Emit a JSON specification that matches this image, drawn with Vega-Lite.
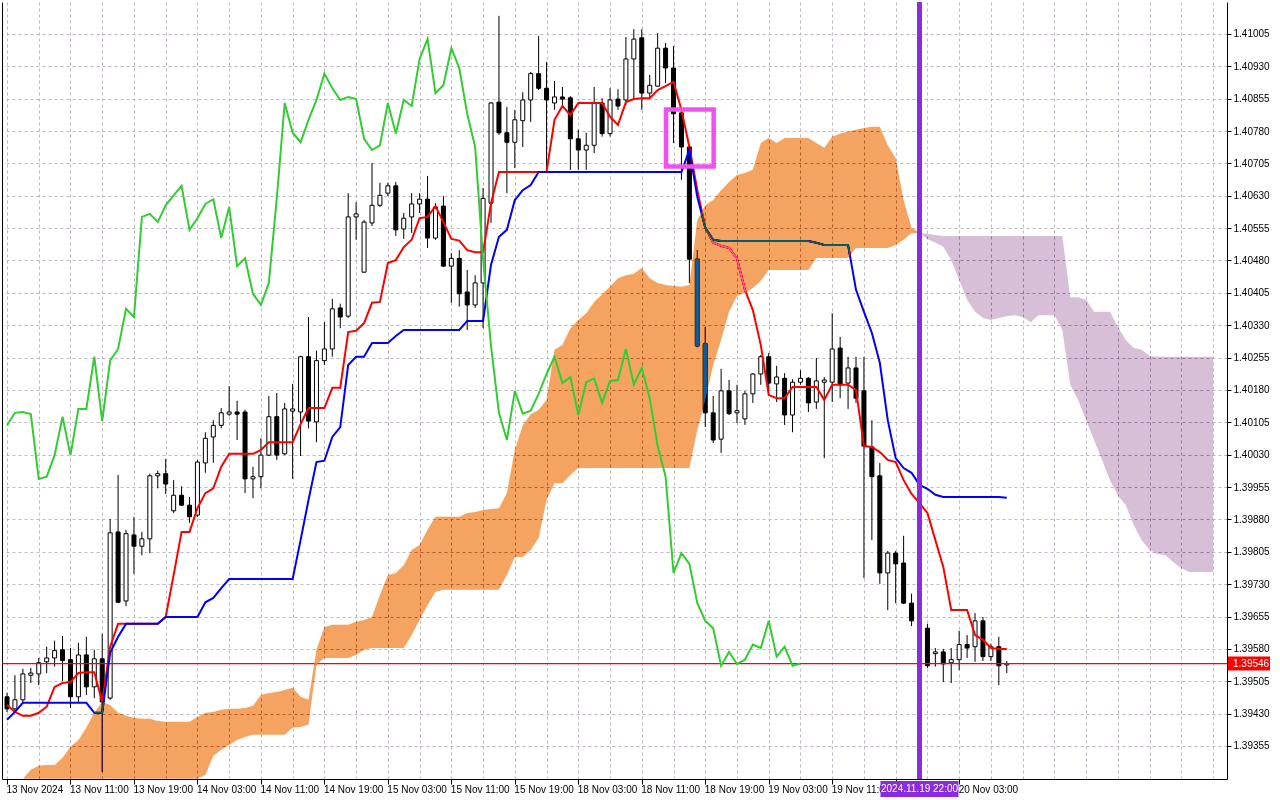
{
  "$schema": "https://vega.github.io/schema/vega-lite/v6.json",
  "width": 1225,
  "height": 777,
  "autosize": {"type": "none"},
  "padding": {"left": 2, "top": 2, "right": 53, "bottom": 21},
  "background": "white",
  "datasets": {
    "bars": [
      {"i":0,"open":1.39469,"high":1.39478,"low":1.39434,"close":1.39441,"tenkan":1.3945,"kijun":1.39416,"chikou":1.40098,"spanA":1.39279,"spanB":1.39279},
      {"i":1,"open":1.39441,"high":1.39519,"low":1.39432,"close":1.39462,"tenkan":1.39434,"kijun":1.39434,"chikou":1.40127,"spanA":1.39279,"spanB":1.39279},
      {"i":2,"open":1.39462,"high":1.39534,"low":1.39457,"close":1.39522,"tenkan":1.39425,"kijun":1.39455,"chikou":1.40129,"spanA":1.39279,"spanB":1.39279},
      {"i":3,"open":1.39519,"high":1.39536,"low":1.39501,"close":1.39524,"tenkan":1.39425,"kijun":1.39455,"chikou":1.40124,"spanA":1.393,"spanB":1.39279},
      {"i":4,"open":1.39522,"high":1.39559,"low":1.39496,"close":1.39548,"tenkan":1.39432,"kijun":1.39455,"chikou":1.39974,"spanA":1.39309,"spanB":1.39279},
      {"i":5,"open":1.3955,"high":1.39585,"low":1.39524,"close":1.39559,"tenkan":1.39446,"kijun":1.39455,"chikou":1.39979,"spanA":1.39311,"spanB":1.39279},
      {"i":6,"open":1.39559,"high":1.39599,"low":1.39539,"close":1.39576,"tenkan":1.39492,"kijun":1.39455,"chikou":1.40029,"spanA":1.39311,"spanB":1.39279},
      {"i":7,"open":1.39578,"high":1.3961,"low":1.39506,"close":1.39553,"tenkan":1.39501,"kijun":1.39455,"chikou":1.40118,"spanA":1.39328,"spanB":1.39279},
      {"i":8,"open":1.39555,"high":1.39582,"low":1.39443,"close":1.39469,"tenkan":1.39503,"kijun":1.39455,"chikou":1.40029,"spanA":1.39353,"spanB":1.39279},
      {"i":9,"open":1.39469,"high":1.39594,"low":1.39457,"close":1.39566,"tenkan":1.39524,"kijun":1.39455,"chikou":1.40136,"spanA":1.39369,"spanB":1.39279},
      {"i":10,"open":1.39566,"high":1.39608,"low":1.39473,"close":1.39492,"tenkan":1.39526,"kijun":1.39455,"chikou":1.40136,"spanA":1.39397,"spanB":1.39279},
      {"i":11,"open":1.39492,"high":1.39578,"low":1.39466,"close":1.39557,"tenkan":1.39526,"kijun":1.39432,"chikou":1.40257,"spanA":1.39432,"spanB":1.39279},
      {"i":12,"open":1.39557,"high":1.39615,"low":1.39295,"close":1.39457,"tenkan":1.39457,"kijun":1.39432,"chikou":1.40108,"spanA":1.39457,"spanB":1.39279},
      {"i":13,"open":1.39466,"high":1.39881,"low":1.39462,"close":1.39849,"tenkan":1.39585,"kijun":1.39571,"chikou":1.40248,"spanA":1.3945,"spanB":1.39279},
      {"i":14,"open":1.39851,"high":1.39983,"low":1.39686,"close":1.39688,"tenkan":1.39638,"kijun":1.39608,"chikou":1.40275,"spanA":1.39432,"spanB":1.39279},
      {"i":15,"open":1.39691,"high":1.39856,"low":1.39679,"close":1.39847,"tenkan":1.39638,"kijun":1.39638,"chikou":1.40368,"spanA":1.39425,"spanB":1.39279},
      {"i":16,"open":1.39844,"high":1.39886,"low":1.39754,"close":1.39818,"tenkan":1.39638,"kijun":1.39638,"chikou":1.40349,"spanA":1.3942,"spanB":1.39279},
      {"i":17,"open":1.39818,"high":1.39851,"low":1.39797,"close":1.39835,"tenkan":1.39638,"kijun":1.39638,"chikou":1.40581,"spanA":1.39418,"spanB":1.39279},
      {"i":18,"open":1.39835,"high":1.39986,"low":1.39802,"close":1.39981,"tenkan":1.39638,"kijun":1.39638,"chikou":1.40588,"spanA":1.39418,"spanB":1.39279},
      {"i":19,"open":1.39981,"high":1.39993,"low":1.39952,"close":1.39986,"tenkan":1.39638,"kijun":1.39638,"chikou":1.40569,"spanA":1.39413,"spanB":1.39279},
      {"i":20,"open":1.39986,"high":1.4002,"low":1.39939,"close":1.39962,"tenkan":1.39654,"kijun":1.39654,"chikou":1.40608,"spanA":1.39411,"spanB":1.39279},
      {"i":21,"open":1.399,"high":1.39971,"low":1.39895,"close":1.39936,"tenkan":1.39751,"kijun":1.39654,"chikou":1.40631,"spanA":1.39411,"spanB":1.39279},
      {"i":22,"open":1.39936,"high":1.39957,"low":1.39911,"close":1.39913,"tenkan":1.39851,"kijun":1.39654,"chikou":1.40653,"spanA":1.39411,"spanB":1.39279},
      {"i":23,"open":1.39913,"high":1.39932,"low":1.39872,"close":1.39886,"tenkan":1.39851,"kijun":1.39654,"chikou":1.40551,"spanA":1.39411,"spanB":1.39279},
      {"i":24,"open":1.3989,"high":1.40018,"low":1.39886,"close":1.40013,"tenkan":1.39906,"kijun":1.39654,"chikou":1.40578,"spanA":1.39422,"spanB":1.39279},
      {"i":25,"open":1.40011,"high":1.40082,"low":1.39988,"close":1.40068,"tenkan":1.39941,"kijun":1.39688,"chikou":1.40611,"spanA":1.39432,"spanB":1.39288},
      {"i":26,"open":1.40071,"high":1.4011,"low":1.40011,"close":1.40098,"tenkan":1.39952,"kijun":1.39698,"chikou":1.40622,"spanA":1.39434,"spanB":1.39332},
      {"i":27,"open":1.40098,"high":1.40138,"low":1.40091,"close":1.40127,"tenkan":1.40002,"kijun":1.39721,"chikou":1.40532,"spanA":1.39439,"spanB":1.39346},
      {"i":28,"open":1.40124,"high":1.40189,"low":1.4012,"close":1.40129,"tenkan":1.40032,"kijun":1.39742,"chikou":1.40604,"spanA":1.39441,"spanB":1.39357},
      {"i":29,"open":1.40129,"high":1.40155,"low":1.40064,"close":1.40124,"tenkan":1.40032,"kijun":1.39742,"chikou":1.40467,"spanA":1.39441,"spanB":1.39369},
      {"i":30,"open":1.40129,"high":1.40134,"low":1.39941,"close":1.39974,"tenkan":1.40032,"kijun":1.39742,"chikou":1.40485,"spanA":1.39443,"spanB":1.39376},
      {"i":31,"open":1.39974,"high":1.40002,"low":1.39929,"close":1.39979,"tenkan":1.40032,"kijun":1.39742,"chikou":1.40403,"spanA":1.39448,"spanB":1.39381},
      {"i":32,"open":1.39979,"high":1.40068,"low":1.39952,"close":1.40029,"tenkan":1.40041,"kijun":1.39742,"chikou":1.40377,"spanA":1.39473,"spanB":1.39381},
      {"i":33,"open":1.40029,"high":1.40166,"low":1.40027,"close":1.40118,"tenkan":1.40059,"kijun":1.39742,"chikou":1.40428,"spanA":1.39478,"spanB":1.39381},
      {"i":34,"open":1.40118,"high":1.40173,"low":1.40018,"close":1.40029,"tenkan":1.40059,"kijun":1.39742,"chikou":1.40624,"spanA":1.3948,"spanB":1.39381},
      {"i":35,"open":1.40032,"high":1.4015,"low":1.40029,"close":1.40136,"tenkan":1.40059,"kijun":1.39742,"chikou":1.40845,"spanA":1.39485,"spanB":1.39381},
      {"i":36,"open":1.40131,"high":1.40194,"low":1.39974,"close":1.40136,"tenkan":1.40059,"kijun":1.39742,"chikou":1.40776,"spanA":1.3949,"spanB":1.39397},
      {"i":37,"open":1.40129,"high":1.40259,"low":1.40027,"close":1.40257,"tenkan":1.40101,"kijun":1.39832,"chikou":1.40754,"spanA":1.39469,"spanB":1.39399},
      {"i":38,"open":1.40257,"high":1.40349,"low":1.40091,"close":1.40108,"tenkan":1.40138,"kijun":1.39925,"chikou":1.40806,"spanA":1.39462,"spanB":1.39404},
      {"i":39,"open":1.40106,"high":1.40271,"low":1.40059,"close":1.40248,"tenkan":1.40138,"kijun":1.40013,"chikou":1.40852,"spanA":1.39578,"spanB":1.39543},
      {"i":40,"open":1.40248,"high":1.40337,"low":1.40238,"close":1.40275,"tenkan":1.40138,"kijun":1.40016,"chikou":1.40913,"spanA":1.39631,"spanB":1.39559},
      {"i":41,"open":1.40275,"high":1.40391,"low":1.40257,"close":1.40368,"tenkan":1.40185,"kijun":1.40071,"chikou":1.40879,"spanA":1.39636,"spanB":1.39559},
      {"i":42,"open":1.4037,"high":1.4038,"low":1.40323,"close":1.40349,"tenkan":1.40185,"kijun":1.40094,"chikou":1.40852,"spanA":1.39636,"spanB":1.39559},
      {"i":43,"open":1.40351,"high":1.40636,"low":1.40347,"close":1.40581,"tenkan":1.40314,"kijun":1.40238,"chikou":1.40859,"spanA":1.39636,"spanB":1.39559},
      {"i":44,"open":1.40581,"high":1.40615,"low":1.40528,"close":1.40588,"tenkan":1.40317,"kijun":1.40257,"chikou":1.40854,"spanA":1.39643,"spanB":1.39566},
      {"i":45,"open":1.40453,"high":1.40574,"low":1.40451,"close":1.40569,"tenkan":1.40335,"kijun":1.40257,"chikou":1.40762,"spanA":1.39647,"spanB":1.39578},
      {"i":46,"open":1.40567,"high":1.40706,"low":1.4056,"close":1.40608,"tenkan":1.40382,"kijun":1.40289,"chikou":1.40736,"spanA":1.39654,"spanB":1.39582},
      {"i":47,"open":1.40608,"high":1.4066,"low":1.40604,"close":1.40631,"tenkan":1.40384,"kijun":1.40289,"chikou":1.40747,"spanA":1.39705,"spanB":1.39582},
      {"i":48,"open":1.40636,"high":1.4066,"low":1.40629,"close":1.40653,"tenkan":1.40474,"kijun":1.40289,"chikou":1.40845,"spanA":1.39751,"spanB":1.39582},
      {"i":49,"open":1.40653,"high":1.40662,"low":1.40537,"close":1.40551,"tenkan":1.40481,"kijun":1.40305,"chikou":1.40774,"spanA":1.39756,"spanB":1.39582},
      {"i":50,"open":1.40553,"high":1.4059,"low":1.4053,"close":1.40578,"tenkan":1.40511,"kijun":1.40319,"chikou":1.40852,"spanA":1.39774,"spanB":1.39582},
      {"i":51,"open":1.40581,"high":1.40636,"low":1.40544,"close":1.40611,"tenkan":1.40528,"kijun":1.40319,"chikou":1.40838,"spanA":1.39809,"spanB":1.39612},
      {"i":52,"open":1.40611,"high":1.40636,"low":1.4059,"close":1.40622,"tenkan":1.40578,"kijun":1.40319,"chikou":1.40947,"spanA":1.39821,"spanB":1.39647},
      {"i":53,"open":1.40622,"high":1.40676,"low":1.40509,"close":1.40532,"tenkan":1.40581,"kijun":1.40319,"chikou":1.40993,"spanA":1.39856,"spanB":1.39681},
      {"i":54,"open":1.40532,"high":1.40613,"low":1.40528,"close":1.40604,"tenkan":1.40606,"kijun":1.40319,"chikou":1.40868,"spanA":1.39886,"spanB":1.39712},
      {"i":55,"open":1.40606,"high":1.40629,"low":1.40465,"close":1.40467,"tenkan":1.40569,"kijun":1.40319,"chikou":1.40886,"spanA":1.39886,"spanB":1.39717},
      {"i":56,"open":1.40467,"high":1.40497,"low":1.40382,"close":1.40485,"tenkan":1.4053,"kijun":1.40319,"chikou":1.40972,"spanA":1.39886,"spanB":1.39717},
      {"i":57,"open":1.40485,"high":1.40504,"low":1.40373,"close":1.40403,"tenkan":1.40526,"kijun":1.40319,"chikou":1.40926,"spanA":1.39886,"spanB":1.39717},
      {"i":58,"open":1.40407,"high":1.40458,"low":1.40319,"close":1.40377,"tenkan":1.40504,"kijun":1.4034,"chikou":1.4082,"spanA":1.39895,"spanB":1.39717},
      {"i":59,"open":1.40377,"high":1.40446,"low":1.4037,"close":1.40428,"tenkan":1.40499,"kijun":1.4034,"chikou":1.40743,"spanA":1.39897,"spanB":1.39717},
      {"i":60,"open":1.40428,"high":1.40648,"low":1.40323,"close":1.40624,"tenkan":1.40499,"kijun":1.4034,"chikou":1.40483,"spanA":1.39902,"spanB":1.39717},
      {"i":61,"open":1.40613,"high":1.40847,"low":1.40567,"close":1.40845,"tenkan":1.40613,"kijun":1.4047,"chikou":1.40282,"spanA":1.39904,"spanB":1.39717},
      {"i":62,"open":1.40847,"high":1.41047,"low":1.40771,"close":1.40776,"tenkan":1.40685,"kijun":1.40535,"chikou":1.40127,"spanA":1.39906,"spanB":1.39717},
      {"i":63,"open":1.40776,"high":1.40836,"low":1.40636,"close":1.40754,"tenkan":1.40685,"kijun":1.40551,"chikou":1.40064,"spanA":1.39941,"spanB":1.39751},
      {"i":64,"open":1.40754,"high":1.40829,"low":1.40694,"close":1.40806,"tenkan":1.40685,"kijun":1.4062,"chikou":1.40178,"spanA":1.40041,"spanB":1.39793},
      {"i":65,"open":1.40804,"high":1.4087,"low":1.40743,"close":1.40852,"tenkan":1.40685,"kijun":1.40643,"chikou":1.40125,"spanA":1.40098,"spanB":1.39793},
      {"i":66,"open":1.40852,"high":1.40917,"low":1.40801,"close":1.40913,"tenkan":1.40685,"kijun":1.40655,"chikou":1.40132,"spanA":1.40124,"spanB":1.39809},
      {"i":67,"open":1.40913,"high":1.41,"low":1.40875,"close":1.40879,"tenkan":1.40685,"kijun":1.40685,"chikou":1.40171,"spanA":1.40134,"spanB":1.39837},
      {"i":68,"open":1.40879,"high":1.4094,"low":1.40685,"close":1.40852,"tenkan":1.40685,"kijun":1.40685,"chikou":1.40217,"spanA":1.40157,"spanB":1.39925},
      {"i":69,"open":1.40845,"high":1.40896,"low":1.40829,"close":1.40859,"tenkan":1.40806,"kijun":1.40685,"chikou":1.40257,"spanA":1.40273,"spanB":1.39964},
      {"i":70,"open":1.40859,"high":1.40882,"low":1.40836,"close":1.40854,"tenkan":1.40838,"kijun":1.40685,"chikou":1.40196,"spanA":1.40284,"spanB":1.39964},
      {"i":71,"open":1.40857,"high":1.40861,"low":1.4069,"close":1.40762,"tenkan":1.40817,"kijun":1.40685,"chikou":1.4021,"spanA":1.40323,"spanB":1.39983},
      {"i":72,"open":1.40762,"high":1.40783,"low":1.4069,"close":1.40736,"tenkan":1.40845,"kijun":1.40685,"chikou":1.40122,"spanA":1.40342,"spanB":1.39999},
      {"i":73,"open":1.40736,"high":1.40776,"low":1.4069,"close":1.40747,"tenkan":1.40845,"kijun":1.40685,"chikou":1.40198,"spanA":1.40358,"spanB":1.39999},
      {"i":74,"open":1.40747,"high":1.40882,"low":1.40729,"close":1.40845,"tenkan":1.40845,"kijun":1.40685,"chikou":1.40207,"spanA":1.40384,"spanB":1.39999},
      {"i":75,"open":1.40845,"high":1.40856,"low":1.40767,"close":1.40774,"tenkan":1.40845,"kijun":1.40685,"chikou":1.4015,"spanA":1.40402,"spanB":1.39999},
      {"i":76,"open":1.40774,"high":1.40879,"low":1.40767,"close":1.40852,"tenkan":1.40813,"kijun":1.40685,"chikou":1.40201,"spanA":1.40419,"spanB":1.39999},
      {"i":77,"open":1.40854,"high":1.40877,"low":1.40829,"close":1.40838,"tenkan":1.40794,"kijun":1.40685,"chikou":1.40203,"spanA":1.40439,"spanB":1.39999},
      {"i":78,"open":1.40852,"high":1.40998,"low":1.4084,"close":1.40947,"tenkan":1.40847,"kijun":1.40685,"chikou":1.40275,"spanA":1.40446,"spanB":1.39999},
      {"i":79,"open":1.40947,"high":1.41016,"low":1.40852,"close":1.40993,"tenkan":1.40854,"kijun":1.40685,"chikou":1.40192,"spanA":1.40449,"spanB":1.39999},
      {"i":80,"open":1.40996,"high":1.41016,"low":1.40829,"close":1.40868,"tenkan":1.40856,"kijun":1.40685,"chikou":1.40231,"spanA":1.40463,"spanB":1.39999},
      {"i":81,"open":1.40868,"high":1.4091,"low":1.40856,"close":1.40886,"tenkan":1.40856,"kijun":1.40685,"chikou":1.40161,"spanA":1.40439,"spanB":1.39999},
      {"i":82,"open":1.40884,"high":1.41007,"low":1.40882,"close":1.40972,"tenkan":1.40875,"kijun":1.40685,"chikou":1.4005,"spanA":1.40428,"spanB":1.39999},
      {"i":83,"open":1.40972,"high":1.40984,"low":1.40891,"close":1.40926,"tenkan":1.40884,"kijun":1.40685,"chikou":1.39979,"spanA":1.40423,"spanB":1.39999},
      {"i":84,"open":1.40926,"high":1.40977,"low":1.40752,"close":1.4082,"tenkan":1.40894,"kijun":1.40685,"chikou":1.39756,"spanA":1.40421,"spanB":1.39999},
      {"i":85,"open":1.40822,"high":1.40829,"low":1.40667,"close":1.40743,"tenkan":1.40829,"kijun":1.40685,"chikou":1.39802,"spanA":1.40419,"spanB":1.39999},
      {"i":86,"open":1.40743,"high":1.40747,"low":1.40428,"close":1.40483,"tenkan":1.40743,"kijun":1.40736,"chikou":1.39777,"spanA":1.40423,"spanB":1.39999},
      {"i":87,"open":1.40483,"high":1.40504,"low":1.40279,"close":1.40282,"tenkan":1.40643,"kijun":1.40627,"chikou":1.39686,"spanA":1.40574,"spanB":1.40087},
      {"i":88,"open":1.40287,"high":1.40326,"low":1.40094,"close":1.40127,"tenkan":1.40556,"kijun":1.40556,"chikou":1.39645,"spanA":1.40608,"spanB":1.40157},
      {"i":89,"open":1.40127,"high":1.40166,"low":1.40057,"close":1.40064,"tenkan":1.40521,"kijun":1.40528,"chikou":1.39628,"spanA":1.4062,"spanB":1.40238},
      {"i":90,"open":1.40066,"high":1.40229,"low":1.40034,"close":1.40178,"tenkan":1.40514,"kijun":1.40525,"chikou":1.39541,"spanA":1.40643,"spanB":1.40296},
      {"i":91,"open":1.40178,"high":1.40203,"low":1.40122,"close":1.40125,"tenkan":1.40509,"kijun":1.40525,"chikou":1.39573,"spanA":1.40662,"spanB":1.40361},
      {"i":92,"open":1.40127,"high":1.40192,"low":1.40103,"close":1.40132,"tenkan":1.40485,"kijun":1.40525,"chikou":1.39545,"spanA":1.40678,"spanB":1.40398},
      {"i":93,"open":1.40113,"high":1.40178,"low":1.40099,"close":1.40171,"tenkan":1.40412,"kijun":1.40525,"chikou":1.39555,"spanA":1.40683,"spanB":1.40405},
      {"i":94,"open":1.40171,"high":1.40219,"low":1.4015,"close":1.40217,"tenkan":1.40365,"kijun":1.40525,"chikou":1.3959,"spanA":1.4069,"spanB":1.40416},
      {"i":95,"open":1.40217,"high":1.40261,"low":1.40192,"close":1.40257,"tenkan":1.40284,"kijun":1.40525,"chikou":1.39582,"spanA":1.40752,"spanB":1.40433},
      {"i":96,"open":1.40257,"high":1.40266,"low":1.40175,"close":1.40196,"tenkan":1.40168,"kijun":1.40525,"chikou":1.39645,"spanA":1.40764,"spanB":1.40458},
      {"i":97,"open":1.40194,"high":1.40236,"low":1.40152,"close":1.4021,"tenkan":1.40161,"kijun":1.40525,"chikou":1.39562,"spanA":1.40752,"spanB":1.40458},
      {"i":98,"open":1.40207,"high":1.40219,"low":1.40099,"close":1.40122,"tenkan":1.40161,"kijun":1.40525,"chikou":1.39585,"spanA":1.40764,"spanB":1.40458},
      {"i":99,"open":1.40122,"high":1.40205,"low":1.40082,"close":1.40198,"tenkan":1.40187,"kijun":1.40525,"chikou":1.39541,"spanA":1.40764,"spanB":1.40458},
      {"i":100,"open":1.40198,"high":1.40226,"low":1.40192,"close":1.40207,"tenkan":1.40187,"kijun":1.40525,"chikou":1.39546,"spanA":1.40764,"spanB":1.40458},
      {"i":101,"open":1.40207,"high":1.4021,"low":1.40129,"close":1.4015,"tenkan":1.40187,"kijun":1.40525,"spanA":1.40764,"spanB":1.40458},
      {"i":102,"open":1.40152,"high":1.40254,"low":1.40136,"close":1.40201,"tenkan":1.40187,"kijun":1.40521,"spanA":1.40752,"spanB":1.40486},
      {"i":103,"open":1.40198,"high":1.4021,"low":1.40022,"close":1.40203,"tenkan":1.40157,"kijun":1.40516,"spanA":1.40741,"spanB":1.40486},
      {"i":104,"open":1.40198,"high":1.40358,"low":1.40152,"close":1.40275,"tenkan":1.40192,"kijun":1.40516,"spanA":1.40767,"spanB":1.40486},
      {"i":105,"open":1.40277,"high":1.40303,"low":1.40161,"close":1.40192,"tenkan":1.40192,"kijun":1.40516,"spanA":1.40774,"spanB":1.40486},
      {"i":106,"open":1.40196,"high":1.40257,"low":1.40136,"close":1.40231,"tenkan":1.40192,"kijun":1.40516,"spanA":1.40779,"spanB":1.40486},
      {"i":107,"open":1.40231,"high":1.40257,"low":1.4015,"close":1.40161,"tenkan":1.4018,"kijun":1.40412,"spanA":1.40783,"spanB":1.40509},
      {"i":108,"open":1.40178,"high":1.40257,"low":1.39744,"close":1.4005,"tenkan":1.4005,"kijun":1.40361,"spanA":1.40787,"spanB":1.40509},
      {"i":109,"open":1.40048,"high":1.4011,"low":1.39832,"close":1.39979,"tenkan":1.40048,"kijun":1.40312,"spanA":1.4079,"spanB":1.40509},
      {"i":110,"open":1.39981,"high":1.40011,"low":1.39731,"close":1.39756,"tenkan":1.40036,"kijun":1.40243,"spanA":1.4079,"spanB":1.40509},
      {"i":111,"open":1.39756,"high":1.39807,"low":1.3967,"close":1.39802,"tenkan":1.40018,"kijun":1.4011,"spanA":1.40747,"spanB":1.40509},
      {"i":112,"open":1.39802,"high":1.39807,"low":1.39686,"close":1.39777,"tenkan":1.40013,"kijun":1.40022,"spanA":1.40717,"spanB":1.40516},
      {"i":113,"open":1.39779,"high":1.39842,"low":1.39684,"close":1.39686,"tenkan":1.39971,"kijun":1.39999,"spanA":1.4062,"spanB":1.40528},
      {"i":114,"open":1.39686,"high":1.39708,"low":1.39633,"close":1.39645,"tenkan":1.39939,"kijun":1.39988,"spanA":1.40556,"spanB":1.40544},
      {"i":115,"open":1.39645,"high":1.39658,"low":1.39617,"close":1.39628,"tenkan":1.39918,"kijun":1.3996,"spanA":1.40544,"spanB":1.40544},
      {"i":116,"open":1.39628,"high":1.39638,"low":1.39536,"close":1.39541,"tenkan":1.39895,"kijun":1.39951,"spanA":1.4053,"spanB":1.40542},
      {"i":117,"open":1.39569,"high":1.39582,"low":1.39539,"close":1.39573,"tenkan":1.39832,"kijun":1.39937,"spanA":1.40521,"spanB":1.40539},
      {"i":118,"open":1.39573,"high":1.3958,"low":1.39503,"close":1.39545,"tenkan":1.3977,"kijun":1.39932,"spanA":1.40512,"spanB":1.40537},
      {"i":119,"open":1.39548,"high":1.39582,"low":1.39501,"close":1.39555,"tenkan":1.3967,"kijun":1.39932,"spanA":1.40481,"spanB":1.40537},
      {"i":120,"open":1.39555,"high":1.39622,"low":1.39531,"close":1.3959,"tenkan":1.3967,"kijun":1.39932,"spanA":1.40435,"spanB":1.40537},
      {"i":121,"open":1.3959,"high":1.39612,"low":1.39559,"close":1.39582,"tenkan":1.3967,"kijun":1.39932,"spanA":1.40389,"spanB":1.40537},
      {"i":122,"open":1.39585,"high":1.39663,"low":1.3955,"close":1.39645,"tenkan":1.39612,"kijun":1.39932,"spanA":1.40361,"spanB":1.40537},
      {"i":123,"open":1.39645,"high":1.39654,"low":1.39552,"close":1.39562,"tenkan":1.39601,"kijun":1.39932,"spanA":1.40347,"spanB":1.40537},
      {"i":124,"open":1.39562,"high":1.39592,"low":1.39552,"close":1.39585,"tenkan":1.39582,"kijun":1.39932,"spanA":1.40342,"spanB":1.40537},
      {"i":125,"open":1.39585,"high":1.39608,"low":1.39496,"close":1.39541,"tenkan":1.3958,"kijun":1.39932,"spanA":1.40347,"spanB":1.40537},
      {"i":126,"open":1.39543,"high":1.39552,"low":1.39524,"close":1.39546,"tenkan":1.3958,"kijun":1.3993,"spanA":1.40351,"spanB":1.40537},
      {"i":127,"spanA":1.40353,"spanB":1.40537},
      {"i":128,"spanA":1.40349,"spanB":1.40537},
      {"i":129,"spanA":1.40337,"spanB":1.40537},
      {"i":130,"spanA":1.40353,"spanB":1.40537},
      {"i":131,"spanA":1.40353,"spanB":1.40537},
      {"i":132,"spanA":1.40353,"spanB":1.40537},
      {"i":133,"spanA":1.40319,"spanB":1.40537},
      {"i":134,"spanA":1.40192,"spanB":1.40395},
      {"i":135,"spanA":1.40157,"spanB":1.40395},
      {"i":136,"spanA":1.4011,"spanB":1.40389},
      {"i":137,"spanA":1.40064,"spanB":1.40361},
      {"i":138,"spanA":1.40018,"spanB":1.40361},
      {"i":139,"spanA":1.39971,"spanB":1.40361},
      {"i":140,"spanA":1.39936,"spanB":1.40326},
      {"i":141,"spanA":1.39913,"spanB":1.40296},
      {"i":142,"spanA":1.39867,"spanB":1.40277},
      {"i":143,"spanA":1.39832,"spanB":1.40273},
      {"i":144,"spanA":1.39809,"spanB":1.40259},
      {"i":145,"spanA":1.398,"spanB":1.40257},
      {"i":146,"spanA":1.39797,"spanB":1.40257},
      {"i":147,"spanA":1.39781,"spanB":1.40257},
      {"i":148,"spanA":1.39767,"spanB":1.40257},
      {"i":149,"spanA":1.39758,"spanB":1.40257},
      {"i":150,"spanA":1.39758,"spanB":1.40257},
      {"i":151,"spanA":1.39758,"spanB":1.40257},
      {"i":152,"spanA":1.39758,"spanB":1.40257}
    ]
  },
  "resolve": {
    "scale": {"x": "shared", "y": "shared"},
    "axis": {"x": "independent", "y": "independent"}
  },
  "layer": [
    {
      "data": {"name": "bars"},
      "mark": {"type": "rule", "color": "black", "strokeWidth": 1},
      "encoding": {
        "x": {
          "field": "i", "type": "quantitative",
          "scale": {"domain": [0, 153.125], "nice": false, "zero": false},
          "axis": {
            "title": null,
            "values": [0,4,8,12,16,20,24,28,32,36,40,44,48,52,56,60,64,68,72,76,80,84,88,92,96,100,104,108,112,116,120,124,128,132,136,140,144,148,152],
            "labelExpr": "datum.value % 8 === 0 && datum.value <= 120 ? ['13 Nov 2024','13 Nov 11:00','13 Nov 19:00','14 Nov 03:00','14 Nov 11:00','14 Nov 19:00','15 Nov 03:00','15 Nov 11:00','15 Nov 19:00','18 Nov 03:00','18 Nov 11:00','18 Nov 19:00','19 Nov 03:00','19 Nov 11:00','','20 Nov 03:00'][datum.value / 8] : ''",
            "labelAlign": "left",
            "labelBaseline": "top",
            "labelOffset": -1,
            "labelPadding": 0,
            "labelFlush": false,
            "labelOverlap": false,
            "labelFont": "Liberation Sans",
            "labelFontSize": 10,
            "labelColor": "black",
            "tickSize": 5,
            "tickColor": "black",
            "tickOpacity": {"condition": {"test": "datum.value % 8 === 0 && datum.value <= 120", "value": 1}, "value": 0},
            "grid": true,
            "gridColor": "#c2b6c6",
            "gridDash": [3, 3],
            "domain": true,
            "domainColor": "black"
          }
        },
        "y": {
          "field": "low", "type": "quantitative",
          "scale": {"domain": [1.392785, 1.41079], "nice": false, "zero": false},
          "axis": {
            "orient": "right",
            "title": null,
            "values": [1.39355,1.3943,1.39505,1.3958,1.39655,1.3973,1.39805,1.3988,1.39955,1.4003,1.40105,1.4018,1.40255,1.4033,1.40405,1.4048,1.40555,1.4063,1.40705,1.4078,1.40855,1.4093,1.41005],
            "format": ".5f",
            "labelFont": "Liberation Sans",
            "labelFontSize": 10,
            "labelColor": "black",
            "labelPadding": 2,
            "tickSize": 4,
            "tickColor": "black",
            "grid": true,
            "gridColor": "#c2b6c6",
            "gridDash": [3, 3],
            "domain": true,
            "domainColor": "black"
          }
        },
        "y2": {"field": "high"}
      }
    },
    {
      "data": {"name": "bars"},
      "mark": {"type": "bar", "size": 4, "stroke": "black", "strokeWidth": 1},
      "encoding": {
        "x": {"field": "i", "type": "quantitative", "scale": {"domain": [0, 153.125], "nice": false, "zero": false}, "axis": null},
        "y": {
          "field": "open", "type": "quantitative",
          "scale": {"domain": [1.392785, 1.41079], "nice": false, "zero": false},
          "axis": {"orient": "left", "title": null, "labels": false, "ticks": false, "grid": false, "domain": true, "domainColor": "black"}
        },
        "y2": {"field": "close"},
        "fill": {"condition": {"test": "datum.close < datum.open", "value": "black"}, "value": "white"}
      }
    },
    {
      "data": {"values": [{"price": 1.39546}]},
      "mark": {"type": "rule", "color": "#ff0000", "strokeWidth": 1.3},
      "encoding": {
        "y": {"field": "price", "type": "quantitative", "scale": {"domain": [1.392785, 1.41079], "nice": false, "zero": false}, "axis": null}
      }
    },
    {
      "data": {"name": "bars"},
      "mark": {"type": "line", "color": "#ff0000", "strokeWidth": 2},
      "encoding": {
        "x": {"field": "i", "type": "quantitative", "scale": {"domain": [0, 153.125], "nice": false, "zero": false}, "axis": null},
        "y": {"field": "tenkan", "type": "quantitative", "scale": {"domain": [1.392785, 1.41079], "nice": false, "zero": false}, "axis": null}
      }
    },
    {
      "data": {"name": "bars"},
      "mark": {"type": "line", "color": "#0000ff", "strokeWidth": 2},
      "encoding": {
        "x": {"field": "i", "type": "quantitative", "scale": {"domain": [0, 153.125], "nice": false, "zero": false}, "axis": null},
        "y": {"field": "kijun", "type": "quantitative", "scale": {"domain": [1.392785, 1.41079], "nice": false, "zero": false}, "axis": null}
      }
    },
    {
      "data": {"name": "bars"},
      "transform": [{"filter": "datum.spanA >= datum.spanB"}],
      "mark": {"type": "area", "color": "#0b5b9f", "opacity": 1, "blend": "difference"},
      "encoding": {
        "x": {"field": "i", "type": "quantitative", "scale": {"domain": [0, 153.125], "nice": false, "zero": false}, "axis": null},
        "y": {"field": "spanA", "type": "quantitative", "scale": {"domain": [1.392785, 1.41079], "nice": false, "zero": false}, "axis": null},
        "y2": {"field": "spanB"}
      }
    },
    {
      "data": {"name": "bars"},
      "transform": [{"filter": "datum.spanA <= datum.spanB"}],
      "mark": {"type": "area", "color": "#274027", "opacity": 1, "blend": "difference"},
      "encoding": {
        "x": {"field": "i", "type": "quantitative", "scale": {"domain": [0, 153.125], "nice": false, "zero": false}, "axis": null},
        "y": {"field": "spanA", "type": "quantitative", "scale": {"domain": [1.392785, 1.41079], "nice": false, "zero": false}, "axis": null},
        "y2": {"field": "spanB"}
      }
    },
    {
      "data": {"name": "bars"},
      "mark": {"type": "line", "color": "#32cd32", "strokeWidth": 2},
      "encoding": {
        "x": {"field": "i", "type": "quantitative", "scale": {"domain": [0, 153.125], "nice": false, "zero": false}, "axis": null},
        "y": {"field": "chikou", "type": "quantitative", "scale": {"domain": [1.392785, 1.41079], "nice": false, "zero": false}, "axis": null}
      }
    },
    {
      "data": {"values": [{"from": 83.06, "to": 89.06, "top": 1.4083, "bottom": 1.40698}]},
      "mark": {"type": "rect", "fill": null, "filled": false, "stroke": "#f050f0", "strokeWidth": 4.5},
      "encoding": {
        "x": {"field": "from", "type": "quantitative", "scale": {"domain": [0, 153.125], "nice": false, "zero": false}, "axis": null},
        "x2": {"field": "to"},
        "y": {"field": "top", "type": "quantitative", "scale": {"domain": [1.392785, 1.41079], "nice": false, "zero": false}, "axis": null},
        "y2": {"field": "bottom"}
      }
    },
    {
      "data": {"values": [{"i": 115, "when": "2024.11.19 22:00"}]},
      "mark": {"type": "rule", "color": "#8a2be2", "strokeWidth": 5},
      "encoding": {
        "x": {"field": "i", "type": "quantitative", "scale": {"domain": [0, 153.125], "nice": false, "zero": false}, "axis": null}
      }
    },
    {
      "data": {"values": [{"i": 115, "when": "2024.11.19 22:00"}]},
      "mark": {"type": "rule", "color": "#8a2be2", "strokeWidth": 16, "xOffset": -39, "x2Offset": 39, "yOffset": 10},
      "encoding": {
        "x": {"field": "i", "type": "quantitative", "scale": {"domain": [0, 153.125], "nice": false, "zero": false}, "axis": null},
        "x2": {"field": "i"},
        "y": {"value": "height"}
      }
    },
    {
      "data": {"values": [{"i": 115, "when": "2024.11.19 22:00"}]},
      "mark": {"type": "text", "color": "white", "font": "Liberation Sans", "fontSize": 10, "align": "center", "baseline": "middle", "dy": 10},
      "encoding": {
        "x": {"field": "i", "type": "quantitative", "scale": {"domain": [0, 153.125], "nice": false, "zero": false}, "axis": null},
        "y": {"value": "height"},
        "text": {"field": "when"}
      }
    },
    {
      "data": {"values": [{"price": 1.39546}]},
      "mark": {"type": "rule", "color": "#ff0000", "strokeWidth": 14, "xOffset": 1, "x2Offset": 43},
      "encoding": {
        "x": {"value": "width"},
        "x2": {"value": "width"},
        "y": {"field": "price", "type": "quantitative", "scale": {"domain": [1.392785, 1.41079], "nice": false, "zero": false}, "axis": null}
      }
    },
    {
      "data": {"values": [{"price": 1.39546}]},
      "mark": {"type": "text", "color": "white", "font": "Liberation Sans", "fontSize": 10, "align": "left", "baseline": "middle", "dx": 6},
      "encoding": {
        "x": {"value": "width"},
        "y": {"field": "price", "type": "quantitative", "scale": {"domain": [1.392785, 1.41079], "nice": false, "zero": false}, "axis": null},
        "text": {"field": "price", "type": "quantitative", "format": ".5f"}
      }
    }
  ],
  "config": {
    "view": {"stroke": null, "fill": "white"},
    "font": "Liberation Sans"
  }
}
